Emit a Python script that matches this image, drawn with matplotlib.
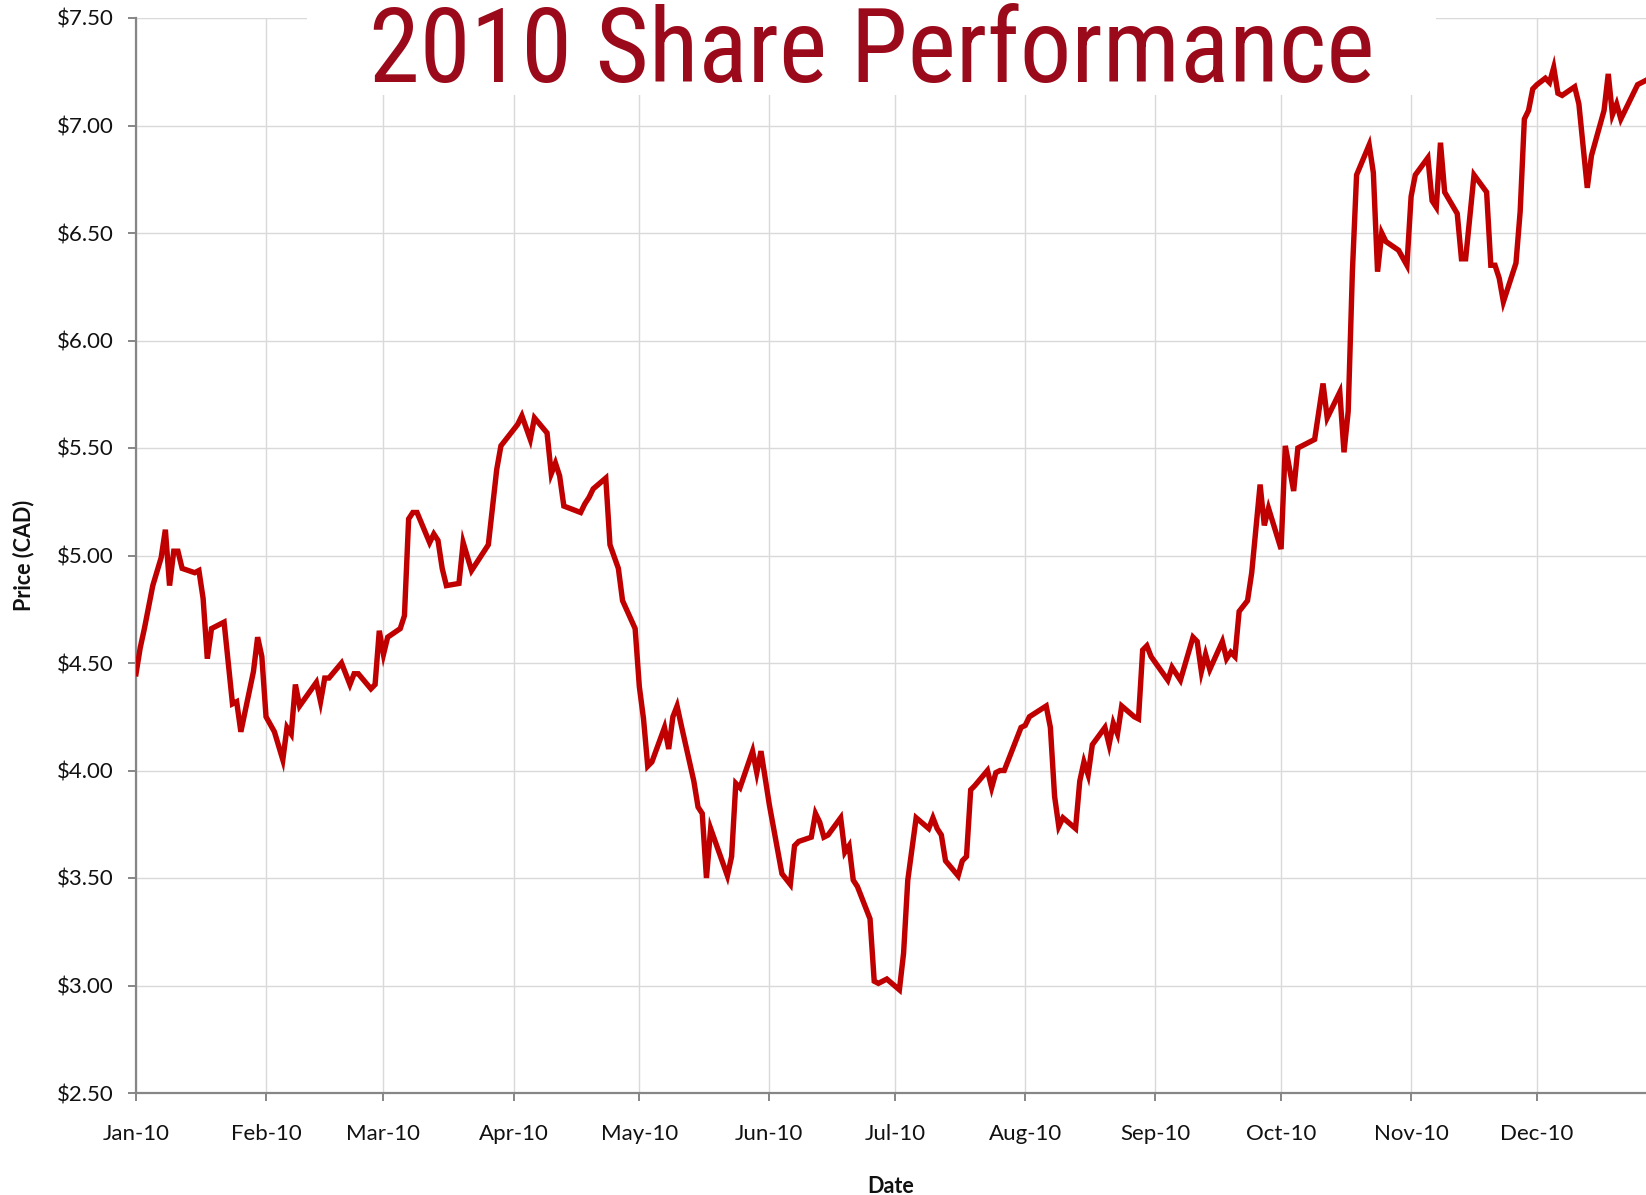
import matplotlib
matplotlib.use("Agg")
import matplotlib.pyplot as plt
import matplotlib.dates as mdates
from matplotlib import font_manager
from matplotlib.patches import Rectangle
import pandas as pd

# ---------------- data ----------------
title = "2010 Share Performance"
x_label = "Date"
y_label = "Price (CAD)"
start_date = "2010-01-01"
end_date = "2010-12-27"
y_ticks = [2.5, 3.0, 3.5, 4.0, 4.5, 5.0, 5.5, 6.0, 6.5, 7.0, 7.5]

# day offset from 1 Jan 2010
day_of_year = [
    0, 1, 2, 4, 6, 7, 8, 9, 10, 11, 14, 15, 16, 17, 18, 21, 23, 24, 25, 28,
    29, 30, 31, 33, 35, 36, 37, 38, 39, 43, 44, 45, 46, 49, 51, 52, 53, 56, 57, 58,
    59, 60, 63, 64, 65, 66, 67, 70, 71, 72, 73, 74, 77, 78, 80, 84, 86, 87, 89, 91,
    92, 94, 95, 98, 99, 100, 101, 102, 106, 107, 108, 109, 112, 113, 115, 116, 119, 120, 121, 122,
    123, 126, 127, 128, 129, 130, 133, 134, 135, 136, 137, 141, 142, 143, 144, 147, 148, 149, 151, 154,
    156, 157, 158, 161, 162, 163, 164, 165, 168, 169, 170, 171, 172, 175, 176, 177, 179, 182, 183, 184,
    186, 189, 190, 191, 192, 193, 196, 197, 198, 199, 200, 203, 204, 205, 206, 207, 211, 212, 213, 217,
    218, 219, 220, 221, 224, 225, 226, 227, 228, 231, 232, 233, 234, 235, 238, 239, 240, 241, 242, 246,
    247, 249, 252, 253, 254, 255, 256, 259, 260, 261, 262, 263, 265, 266, 268, 269, 270, 273, 274, 276,
    277, 281, 283, 284, 287, 288, 289, 290, 291, 294, 295, 296, 297, 298, 301, 303, 304, 305, 308, 309,
    310, 311, 312, 315, 316, 317, 319, 322, 323, 324, 325, 326, 329, 330, 331, 332, 333, 334, 336, 337,
    338, 339, 340, 343, 344, 346, 347, 350, 351, 352, 353, 354, 358, 360,
]
price = [
    4.45, 4.57, 4.66, 4.86, 4.99, 5.12, 4.86, 5.02, 5.02, 4.94, 4.92, 4.93, 4.80, 4.52, 4.66, 4.69, 4.31, 4.32, 4.18, 4.46,
    4.62, 4.53, 4.25, 4.18, 4.05, 4.20, 4.17, 4.40, 4.30, 4.41, 4.32, 4.43, 4.43, 4.50, 4.40, 4.45, 4.45, 4.38, 4.40, 4.65,
    4.54, 4.62, 4.66, 4.72, 5.17, 5.20, 5.20, 5.06, 5.10, 5.07, 4.94, 4.86, 4.87, 5.06, 4.93, 5.05, 5.40, 5.51, 5.56, 5.61,
    5.65, 5.54, 5.64, 5.57, 5.38, 5.43, 5.37, 5.23, 5.20, 5.24, 5.27, 5.31, 5.36, 5.05, 4.94, 4.79, 4.66, 4.39, 4.24, 4.02,
    4.04, 4.20, 4.10, 4.25, 4.30, 4.21, 3.95, 3.83, 3.80, 3.50, 3.73, 3.51, 3.60, 3.94, 3.92, 4.09, 3.99, 4.09, 3.84, 3.52,
    3.47, 3.65, 3.67, 3.69, 3.80, 3.76, 3.69, 3.70, 3.78, 3.62, 3.65, 3.49, 3.46, 3.31, 3.02, 3.01, 3.03, 2.98, 3.15, 3.49,
    3.78, 3.73, 3.78, 3.73, 3.70, 3.58, 3.51, 3.58, 3.60, 3.91, 3.93, 4.00, 3.92, 3.99, 4.00, 4.00, 4.20, 4.21, 4.25, 4.30,
    4.20, 3.88, 3.74, 3.78, 3.73, 3.95, 4.04, 3.98, 4.12, 4.20, 4.12, 4.22, 4.17, 4.30, 4.25, 4.24, 4.56, 4.58, 4.53, 4.42,
    4.48, 4.42, 4.62, 4.60, 4.46, 4.54, 4.47, 4.60, 4.52, 4.55, 4.53, 4.74, 4.79, 4.92, 5.33, 5.14, 5.22, 5.03, 5.51, 5.30,
    5.50, 5.54, 5.80, 5.64, 5.76, 5.48, 5.67, 6.32, 6.77, 6.91, 6.78, 6.32, 6.50, 6.46, 6.42, 6.35, 6.67, 6.77, 6.85, 6.65,
    6.62, 6.92, 6.69, 6.59, 6.38, 6.38, 6.77, 6.69, 6.35, 6.35, 6.29, 6.18, 6.36, 6.60, 7.03, 7.07, 7.17, 7.19, 7.22, 7.20,
    7.27, 7.15, 7.14, 7.18, 7.10, 6.71, 6.86, 7.07, 7.24, 7.05, 7.10, 7.03, 7.19, 7.21,
]

# ---------------- fonts ----------------
def first_font(cands):
    for c in cands:
        try:
            font_manager.findfont(font_manager.FontProperties(family=c), fallback_to_default=False)
            return c
        except Exception:
            continue
    return "DejaVu Sans"

title_font = first_font(["Liberation Sans Narrow", "DejaVu Sans Condensed", "Roboto Condensed", "Liberation Sans"])
plt.rcParams["font.family"] = ["Lato", "DejaVu Sans"]

dates = pd.Timestamp(start_date) + pd.to_timedelta(day_of_year, unit="D")

W, H = 1646, 1195
fig = plt.figure(figsize=(W / 100, H / 100), dpi=100)
fig.patch.set_facecolor("white")
ax = fig.add_axes([136 / W, (H - 1093) / H, (W - 136) / W, (1093 - 18) / H])

ax.plot(dates, price, color="#C00000", lw=3.9, solid_joinstyle="miter", zorder=3)

ax.set_xlim(pd.Timestamp(start_date), pd.Timestamp(end_date))
ax.set_ylim(2.5, 7.5)
ax.set_yticks(y_ticks)
ax.yaxis.set_major_formatter(plt.FuncFormatter(lambda v, p: f"${v:.2f}"))
ax.xaxis.set_major_locator(mdates.MonthLocator())
ax.xaxis.set_major_formatter(mdates.DateFormatter("%b-%y"))

ax.grid(True, color="#d9d9d9", lw=1.0, zorder=0)
ax.set_axisbelow(True)
for s in ["top", "right"]:
    ax.spines[s].set_visible(False)
for s in ["left", "bottom"]:
    ax.spines[s].set_color("#868686")
    ax.spines[s].set_linewidth(1.6)

ax.tick_params(axis="y", direction="out", length=6, width=1.4, color="#868686",
               labelsize=16, pad=10, labelcolor="#111111")
ax.tick_params(axis="x", direction="out", length=6, width=1.4, color="#868686",
               labelsize=16, pad=16, labelcolor="#111111")

ax.set_xlabel(x_label, fontsize=15.5, fontweight="bold", color="#111111")
ax.xaxis.set_label_coords(0.5, -0.077)
ax.set_ylabel(y_label, fontsize=15.5, fontweight="bold", color="#111111")
ax.yaxis.set_label_coords(-0.0675, 0.5)

# title with white box over the grid
fig.patches.append(Rectangle((307 / W, 1 - 95 / H), (1436 - 307) / W, 95 / H,
                             transform=fig.transFigure, facecolor="white",
                             edgecolor="none", zorder=5))
fig.text(872 / W, 1 - 81.7 / H, title, ha="center", va="baseline",
         fontsize=74, color="#9B0A1B", family=[title_font, "DejaVu Sans"], zorder=6)

fig.savefig("out.png", dpi=100, facecolor="white")
